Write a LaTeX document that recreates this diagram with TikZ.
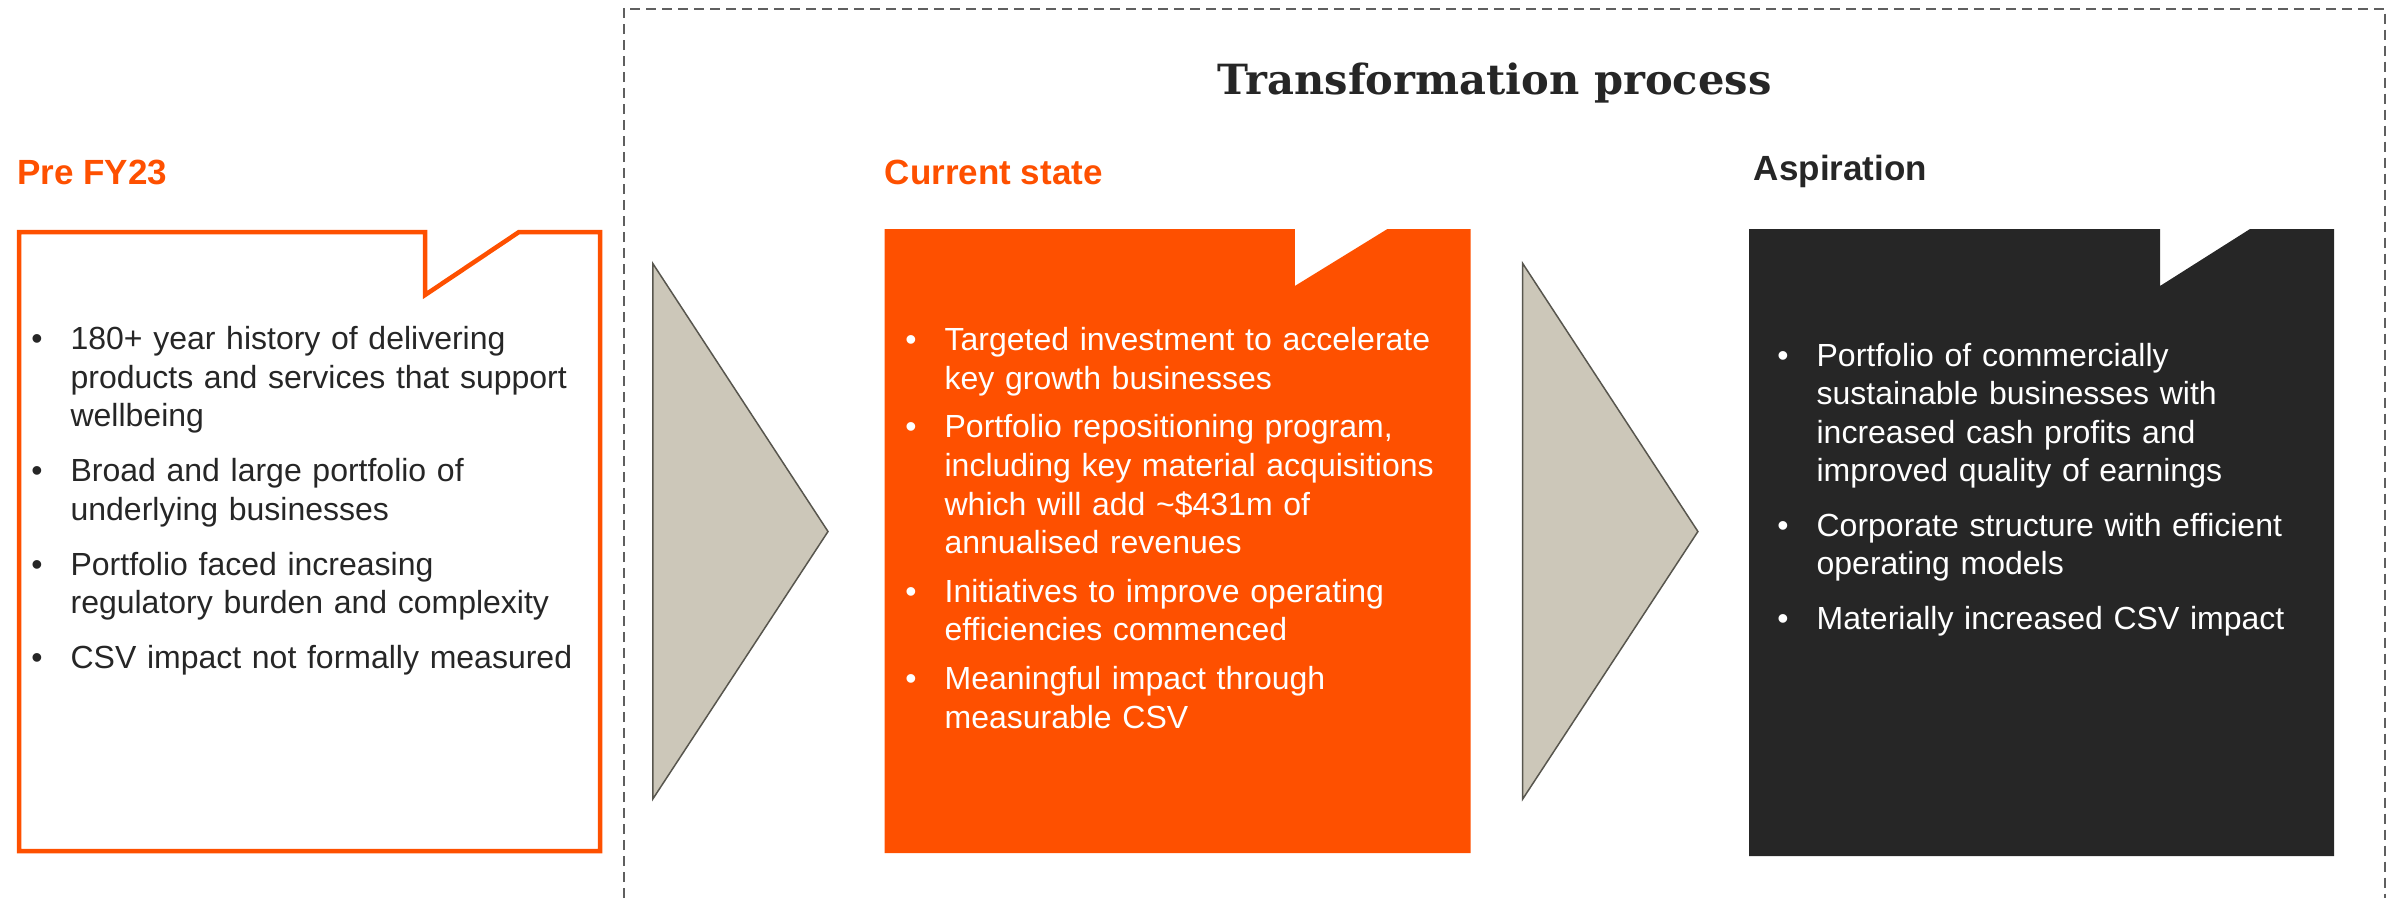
\documentclass[tikz,border=0pt]{standalone}
\usepackage{fontspec}
\setmainfont{Liberation Sans}
\newfontfamily\titlefont{DejaVu Serif}
\definecolor{spOrange}{RGB}{254,80,0}
\definecolor{spDark}{RGB}{38,38,38}
\definecolor{spStone}{RGB}{204,199,185}
\definecolor{spEdge}{RGB}{88,86,78}
\definecolor{spDash}{RGB}{95,95,95}
\newenvironment{dotlist}[1]{\begin{list}{\textbullet}{\setlength{\leftmargin}{39.3pt}\setlength{\labelwidth}{11.2pt}\setlength{\labelsep}{28.1pt}\setlength{\itemsep}{#1}\setlength{\topsep}{0pt}\setlength{\partopsep}{0pt}\setlength{\parsep}{0pt}}}{\end{list}}
\tikzset{
  head/.style={anchor=base west,inner sep=0pt,font=\fontsize{35}{42}\selectfont\bfseries},
  body/.style={anchor=base west,inner sep=0pt,text width=560pt,align=left,font=\fontsize{32}{38.6}\selectfont},
  chevron/.style={fill=spStone,draw=spEdge,line width=1.5pt,line join=miter},
}
\begin{document}
\begin{tikzpicture}[x=1pt,y=-1pt]
  \useasboundingbox (0,0) rectangle (2397,898);
  \draw[spDash,line width=2pt,dash pattern=on 10pt off 6pt] (623.5,898) -- (623.5,8.6) -- (2385,8.6) -- (2385,898);
  \node[anchor=base,inner sep=0pt,text=spDark,font=\titlefont\fontsize{41.6}{50}\selectfont\bfseries] (title) at (1494.5,94.5) {Transformation process};
  \draw[spOrange,line width=4.5pt,line join=miter]
    (19,232) -- (425,232) -- (425,295) -- (519,232) -- (600,232) -- (600,851) -- (19,851) -- cycle;
  \fill[spOrange]
    (884.7,229) -- (1294.8,229) -- (1294.8,286) -- (1387.4,229) -- (1470.7,229) -- (1470.7,853) -- (884.7,853) -- cycle;
  \fill[spDark]
    (1749,229) -- (2160,229) -- (2160,286) -- (2250,229) -- (2334,229) -- (2334,856) -- (1749,856) -- cycle;
  \draw[chevron] (652.8,263.5) -- (828,531.5) -- (652.8,799) -- cycle;
  \draw[chevron] (1522.7,263.5) -- (1697.9,531.5) -- (1522.7,799) -- cycle;
  \node[head,text=spOrange] (pre) at (17,184.4) {Pre FY23};
  \node[head,text=spOrange] (current) at (884.7,184.4) {Current state};
  \node[head,text=spDark] (aspiration) at (1753.7,180.4) {Aspiration};
  \node[body,text=spDark] (preList) at (31.1,310.8) {\begin{dotlist}{16.4pt}
    \item 180+ year history of delivering\newline products and services that support\newline wellbeing
    \item Broad and large portfolio of\newline underlying businesses
    \item Portfolio faced increasing\newline regulatory burden and complexity
    \item CSV impact not formally measured
  \end{dotlist}};
  \node[body,text=white] (currentList) at (905.1,312) {\begin{dotlist}{10pt}
    \item Targeted investment to accelerate\newline key growth businesses
    \item Portfolio repositioning program,\newline including key material acquisitions\newline which will add \textasciitilde\$431m of\newline annualised revenues
    \item Initiatives to improve operating\newline efficiencies commenced
    \item Meaningful impact through\newline measurable CSV
  \end{dotlist}};
  \node[body,text=white] (aspirationList) at (1777.1,327.5) {\begin{dotlist}{15.8pt}
    \item Portfolio of commercially\newline sustainable businesses with\newline increased cash profits and\newline improved quality of earnings
    \item Corporate structure with efficient\newline operating models
    \item Materially increased CSV impact
  \end{dotlist}};
\end{tikzpicture}
\end{document}
